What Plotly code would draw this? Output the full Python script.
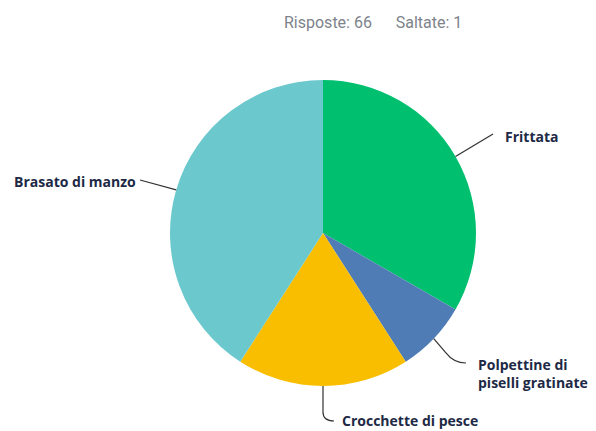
import math
import plotly.graph_objects as go

categories = ["Frittata", "Polpettine di<br>piselli gratinate", "Crocchette di pesce", "Brasato di manzo"]
values = [22, 5, 12, 27]
colors = ["#00BF6F", "#507CB6", "#F9BE00", "#6BC8CD"]
answered = 66
skipped = 1

OFF = 8  # page body margin
FW, FH = 588, 423
CX, CY, R = 323, 233, 153


def px(x, y):
    return (x - OFF) / FW, 1 - (y - OFF) / FH


x0, y0 = px(CX - R, CY + R)
x1, y1 = px(CX + R, CY - R)

fig = go.Figure(go.Pie(
    labels=categories,
    values=values,
    sort=False,
    direction="clockwise",
    rotation=0,
    textinfo="none",
    hoverinfo="label+value+percent",
    marker=dict(colors=colors, line=dict(width=0)),
    domain=dict(x=[x0, x1], y=[y0, y1]),
    showlegend=False,
))

label_pos = [
    (503, 136, "left"),
    (476, 373, "left"),
    (340, 420, "left"),
    (138, 181, "right"),
]
line_end = [
    (493, 134),
    (466, 363),
    (334, 421),
    (140, 180),
]


def pt(x, y):
    a, b = px(x, y)
    return f"{a},{b}"


total = sum(values)
cum = 0
shapes = []
annotations = []
for i, v in enumerate(values):
    mid = (cum + v / 2) / total * 2 * math.pi
    cum += v
    sx = CX + R * math.sin(mid)
    sy = CY - R * math.cos(mid)
    ex, ey = line_end[i]
    if i == 2:
        mx, my = sx, 412
        path = f"M {pt(sx, sy)} L {pt(mx, my)} Q {pt(mx, ey)} {pt(ex, ey)}"
    elif i == 1:
        mx, my = sx + 12, sy + 14
        path = f"M {pt(sx, sy)} L {pt(mx, my)} Q {pt(mx + 8, ey)} {pt(ex, ey)}"
    else:
        path = f"M {pt(sx, sy)} L {pt(ex, ey)}"
    shapes.append(dict(type="path", xref="paper", yref="paper", path=path,
                       line=dict(color="#333333", width=1.2)))
    lx, ly, al = label_pos[i]
    ax, ay = px(lx, ly)
    annotations.append(dict(
        x=ax, y=ay, xref="paper", yref="paper", text="<b>" + categories[i] + "</b>",
        showarrow=False, xanchor=al, yanchor="middle", align="left",
        font=dict(family="Open Sans", size=14, color="#1d2945"),
    ))

tx, ty = px(373, 22)
annotations.append(dict(
    x=tx, y=ty, xref="paper", yref="paper",
    text=f"Risposte: {answered}&nbsp;&nbsp;&nbsp;&nbsp;&nbsp;&nbsp;Saltate: {skipped}",
    showarrow=False, xanchor="center", yanchor="middle",
    font=dict(family="Roboto", size=16, color="#7d838b"),
))

fig.update_layout(
    width=FW, height=FH,
    margin=dict(l=0, r=0, t=0, b=0),
    paper_bgcolor="white",
    plot_bgcolor="white",
    shapes=shapes,
    annotations=annotations,
)

fig.write_html("out.html")
